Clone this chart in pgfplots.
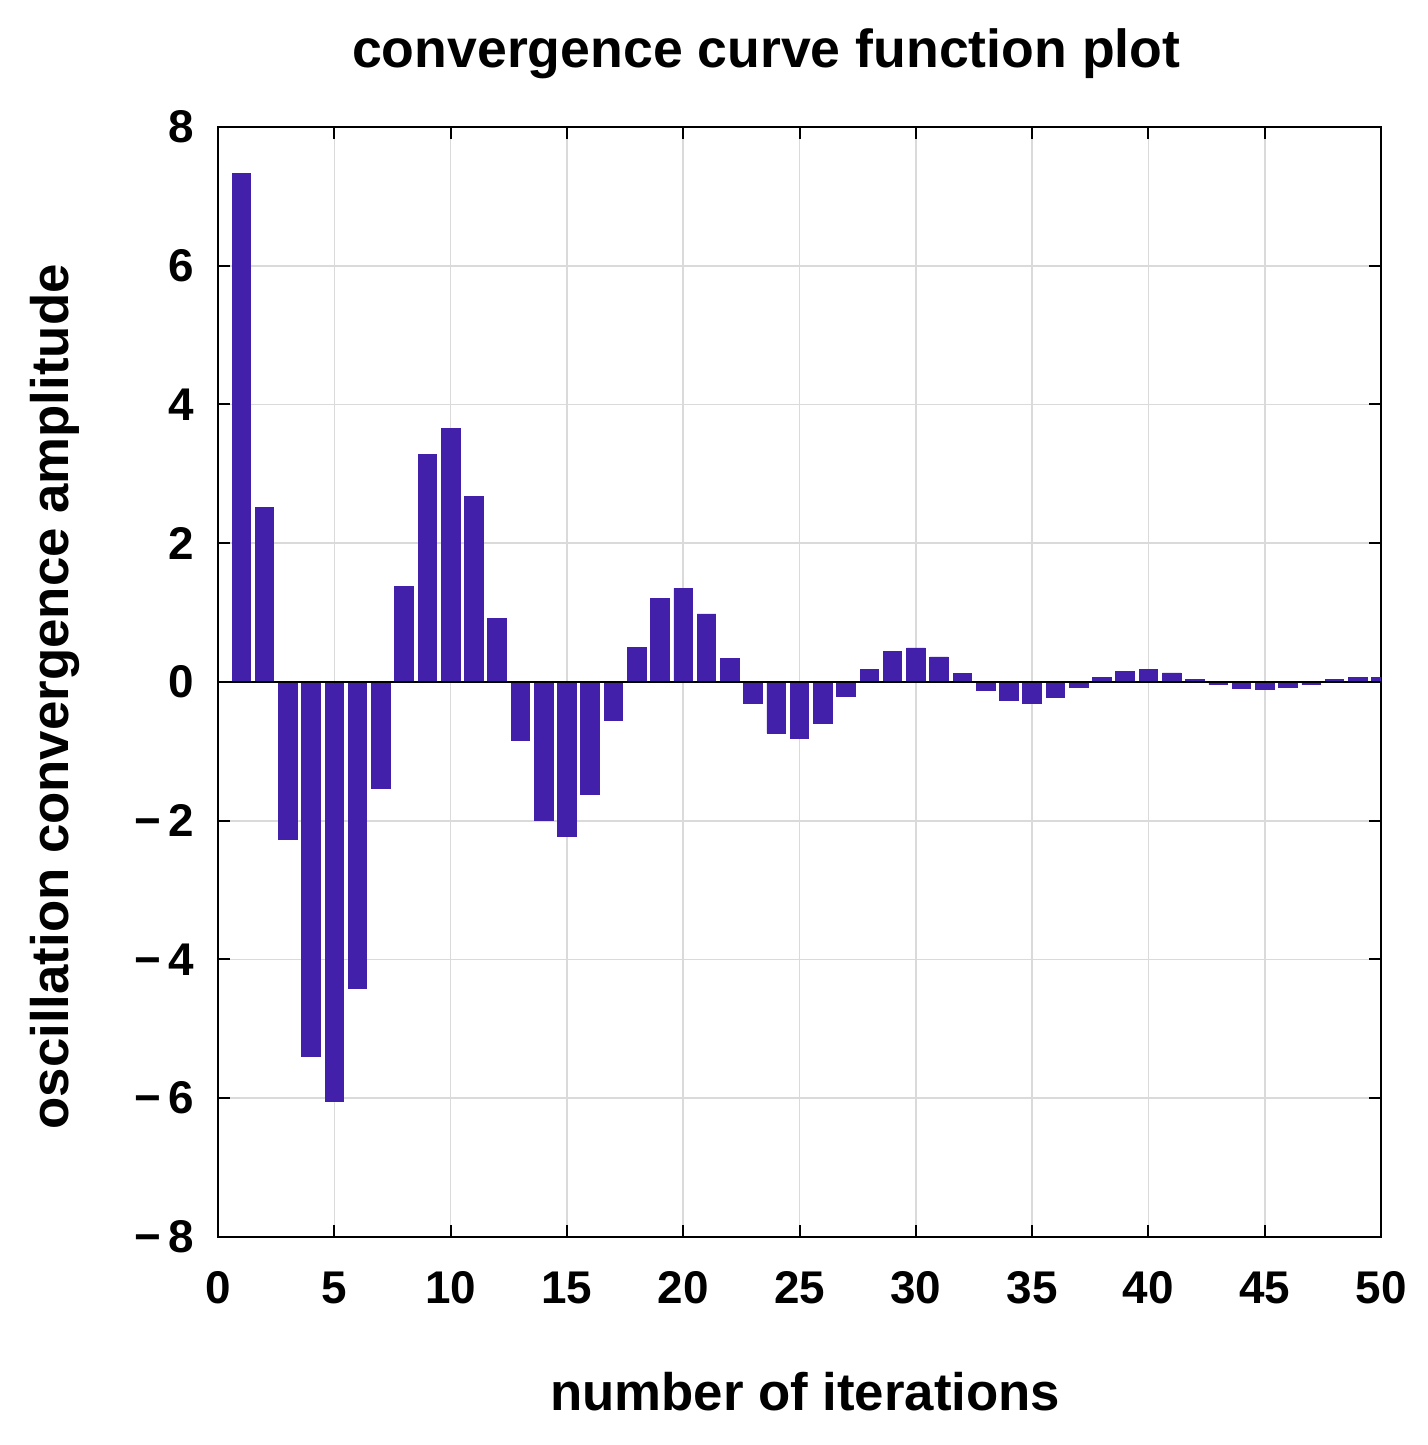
\documentclass[border=0pt]{standalone}
\usepackage{pgfplots}
\pgfplotsset{compat=1.18}
\usepackage{fontspec}
\setmainfont{Liberation Sans}

\definecolor{barblue}{RGB}{66,32,170}
\definecolor{gridgray}{RGB}{218,218,218}

\begin{document}
\begin{tikzpicture}
\begin{axis}[
    name=ax,
    scale only axis,
    width=418.7pt, height=399.6pt,
    xmin=0, xmax=50, ymin=-8, ymax=8,
    xtick={0,5,...,50},
    ytick={-8,-6,...,8},
    yticklabels={−\,8,−\,6,−\,4,−\,2,0,2,4,6,8},
    tick align=inside,
    major tick length=4.3pt,
    every tick/.style={black, line width=0.7pt},
    axis line style={black, line width=0.7pt},
    grid=major,
    major grid style={gridgray, line width=0.6pt},
    ticklabel style={font=\fontsize{16.5}{19}\selectfont\bfseries},
    /pgf/number format/assume math mode=true,
    xticklabel style={yshift=-9pt},
    yticklabel style={xshift=-5pt},
    title={convergence curve function plot},
    title style={font=\fontsize{19.3}{22}\selectfont\bfseries, yshift=7.7pt, xshift=-12pt},
    xlabel={number of iterations},
    xlabel style={font=\fontsize{19}{22}\selectfont\bfseries, yshift=-17.7pt, xshift=2pt},
    ylabel={oscillation convergence amplitude},
    ylabel style={font=\fontsize{19}{22}\selectfont\bfseries, yshift=13pt, xshift=-5.4pt},
]
\addplot[ybar, bar width=0.8, fill=barblue, draw=barblue, line width=0.3pt] coordinates {
    (1,7.33) (2,2.51) (3,-2.27) (4,-5.40) (5,-6.05)
    (6,-4.42) (7,-1.53) (8,1.38) (9,3.28) (10,3.66)
    (11,2.68) (12,0.92) (13,-0.84) (14,-1.99) (15,-2.23)
    (16,-1.62) (17,-0.56) (18,0.50) (19,1.20) (20,1.35)
    (21,0.98) (22,0.34) (23,-0.31) (24,-0.74) (25,-0.82)
    (26,-0.60) (27,-0.21) (28,0.18) (29,0.44) (30,0.49)
    (31,0.36) (32,0.12) (33,-0.12) (34,-0.27) (35,-0.31)
    (36,-0.22) (37,-0.08) (38,0.06) (39,0.15) (40,0.18)
    (41,0.13) (42,0.04) (43,-0.04) (44,-0.10) (45,-0.11)
    (46,-0.08) (47,-0.04) (48,0.03) (49,0.07) (50,0.07)
};
% baseline of the bars
\addplot[black, line width=0.8pt, no marks] coordinates {(0,0) (50,0)};
\end{axis}
\pgfresetboundingbox
\path[use as bounding box] ([shift={(-78.5pt,-74.9pt)}]ax.south west) rectangle ([shift={(16.6pt,45.7pt)}]ax.north east);
\end{tikzpicture}
\end{document}
